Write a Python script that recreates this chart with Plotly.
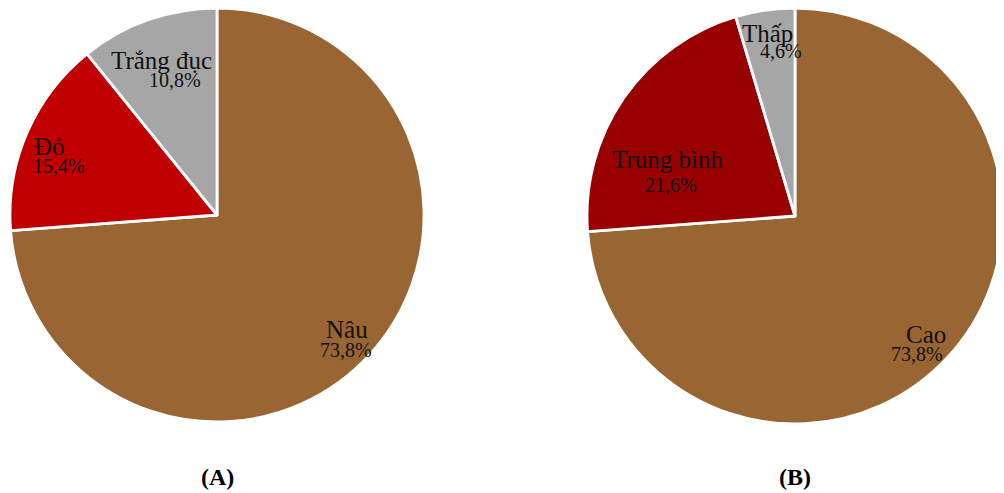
import math
import plotly.graph_objects as go

# ---- data ----
labels_a = ["Nâu", "Đỏ", "Trắng đục"]
values_a = [73.8, 15.4, 10.8]
colors_a = ["#996633", "#C00000", "#A6A6A6"]

labels_b = ["Cao", "Trung bình", "Thấp"]
values_b = [73.8, 21.6, 4.6]
colors_b = ["#996633", "#990000", "#A6A6A6"]

panel_titles = ["(A)", "(B)"]

# ---- style / layout constants ----
OFF = 8  # page body margin
W, H = 1004 - OFF, 493 - OFF
FONT = "Liberation Serif, Times New Roman, serif"
# pie domains in window pixels: (x0, x1, ytop, ybottom)
dom_a = (8, 426, 4, 422)
dom_b = (586, 1004, 6, 424)
# label placement per slice: (radius fraction, angle offset from slice middle in deg,
#                             line gap px, label dx, percent dx)
lab_style_a = [(0.869, 1.5, 20, 0.5, -0.5),
               (0.824, -4.2, 19.6, -4.4, 4.4),
               (0.722, 0.5, 19.5, -6.5, 6.5)]
lab_style_b = [(0.865, 2.8, 18.8, 4.5, -4.5),
               (0.636, -15.7, 25.3, -2.1, 2.1),
               (0.834, 1.5, 17.2, -7, 7)]
TITLE_Y = 477


def px2paper(x, y):
    return (x - OFF) / W, 1 - (y - OFF) / H


def to_domain(d):
    x0, x1, yt, yb = d
    ax0, ay0 = px2paper(x0, yb)
    ax1, ay1 = px2paper(x1, yt)
    return dict(x=[max(0, ax0), min(1, ax1)], y=[max(0, ay0), min(1, ay1)])


def fmt_pct(v):
    return f"{v:.1f}".replace(".", ",") + "%"


fig = go.Figure()
annotations = []


def add_pie(labels, values, colors, dom, styles, title):
    fig.add_trace(go.Pie(
        labels=labels, values=values, sort=False, direction="clockwise",
        rotation=0, domain=to_domain(dom),
        marker=dict(colors=colors, line=dict(color="white", width=2.8)),
        textinfo="none", showlegend=False, hoverinfo="label+percent",
    ))
    x0, x1, yt, yb = dom
    x1 = min(x1, OFF + W)
    r = min(x1 - x0, yb - yt) / 2
    cx, cy = (x0 + x1) / 2, (yt + yb) / 2
    total = sum(values)
    cum = 0.0
    for lab, v, st in zip(labels, values, styles):
        f, dang, gap, dxl, dxp = st
        mid = (cum + v / 2) / total * 2 * math.pi + math.radians(dang)
        cum += v
        px = cx + math.sin(mid) * f * r
        py = cy - math.cos(mid) * f * r
        ax, ay = px2paper(px, py)
        annotations.append(dict(
            x=ax, y=ay, xref="paper", yref="paper", text=lab, showarrow=False,
            xanchor="center", yanchor="middle", yshift=gap / 2, xshift=dxl,
            font=dict(family=FONT, size=25, color="#111111"),
        ))
        annotations.append(dict(
            x=ax, y=ay, xref="paper", yref="paper", text=fmt_pct(v), showarrow=False,
            xanchor="center", yanchor="middle", yshift=-gap / 2, xshift=dxp,
            font=dict(family=FONT, size=20, color="#111111"),
        ))
    tx, ty = px2paper(cx, TITLE_Y)
    annotations.append(dict(
        x=tx, y=ty, xref="paper", yref="paper",
        text=f"<b>{title}</b>", showarrow=False, xanchor="center", yanchor="middle",
        font=dict(family=FONT, size=24, color="#000000"),
    ))


add_pie(labels_a, values_a, colors_a, dom_a, lab_style_a, panel_titles[0])
add_pie(labels_b, values_b, colors_b, dom_b, lab_style_b, panel_titles[1])

fig.update_layout(
    width=W, height=H,
    margin=dict(l=0, r=0, t=0, b=0),
    paper_bgcolor="white", plot_bgcolor="white",
    annotations=annotations,
)

fig.write_html("out.html")
